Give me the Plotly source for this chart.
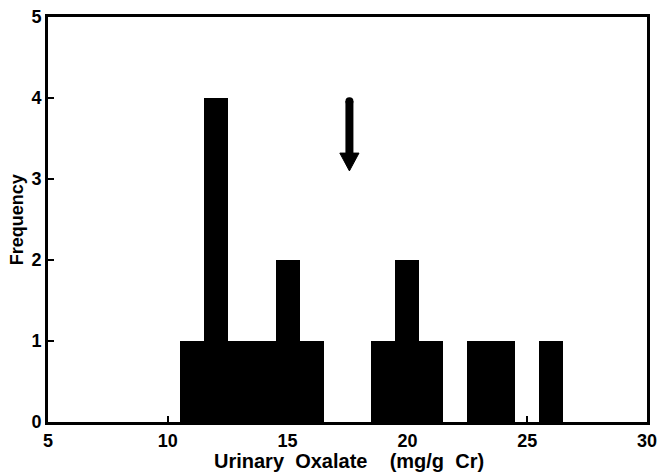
import plotly.graph_objects as go

# Histogram data: bin centres (mg/g Cr) and frequencies
bin_centers = [11, 12, 13, 14, 15, 16, 19, 20, 21, 23, 24, 26]
frequency = [1, 4, 1, 1, 2, 1, 1, 2, 1, 1, 1, 1]
bin_width = 1

x_ticks = [5, 10, 15, 20, 25, 30]
y_ticks = [0, 1, 2, 3, 4, 5]

# arrow marking the value of interest
arrow_x = 17.58
arrow_top = 3.96
arrow_head_base = 3.32
arrow_tip = 3.10
arrow_half_w = 0.4

font = "Liberation Sans, Arial, sans-serif"

fig = go.Figure()
fig.add_trace(go.Bar(
    x=bin_centers, y=frequency, width=[bin_width] * len(bin_centers),
    marker=dict(color="black", line=dict(width=0)),
    showlegend=False,
))

# arrow shaft (rounded top) and head
fig.add_shape(type="line", x0=arrow_x, x1=arrow_x, y0=arrow_top, y1=arrow_head_base,
              xref="x", yref="y", line=dict(color="black", width=8))
fig.add_shape(type="circle", xref="x", yref="y", xsizemode="pixel", ysizemode="pixel",
              xanchor=arrow_x, yanchor=arrow_top, x0=-4, x1=4, y0=-4, y1=4,
              fillcolor="black", line=dict(width=0))
fig.add_shape(type="path",
              path=f"M {arrow_x - arrow_half_w} {arrow_head_base} L {arrow_x + arrow_half_w} {arrow_head_base} L {arrow_x} {arrow_tip} Z",
              xref="x", yref="y", fillcolor="black", line=dict(color="black", width=1))

# axis titles as annotations for exact placement
fig.add_annotation(text="<b>Urinary&nbsp;&nbsp;Oxalate&nbsp;&nbsp;&nbsp;&nbsp;(mg/g&nbsp;&nbsp;Cr)</b>",
                   xref="paper", yref="paper", x=0.502, y=-0.097, xanchor="center", yanchor="middle",
                   showarrow=False, font=dict(family=font, size=20, color="black"))
fig.add_annotation(text="<b>Frequency</b>", textangle=-90,
                   xref="paper", yref="paper", x=-0.052, y=0.5, xanchor="center", yanchor="middle",
                   showarrow=False, font=dict(family=font, size=18, color="black"))

fig.update_layout(
    width=657, height=473,
    margin=dict(l=48, r=10, t=17, b=51),
    plot_bgcolor="white", paper_bgcolor="white",
    bargap=0,
    font=dict(family=font, size=16, color="black"),
)
fig.update_xaxes(
    range=[5, 30], tickvals=x_ticks, ticktext=[str(v) for v in x_ticks],
    showgrid=False, zeroline=False, automargin=False, ticklabeloverflow="allow",
    showline=True, linecolor="black", linewidth=3, mirror=True,
    ticks="inside", ticklen=6, tickwidth=2, tickcolor="black",
    tickfont=dict(family=font, size=18, color="black", weight="bold"),
)
fig.update_yaxes(
    range=[0, 5], tickvals=y_ticks, ticktext=[str(v) for v in y_ticks],
    showgrid=False, zeroline=False, automargin=False, ticklabeloverflow="allow",
    showline=True, linecolor="black", linewidth=3, mirror=True,
    ticks="inside", ticklen=6, tickwidth=2, tickcolor="black",
    tickfont=dict(family=font, size=18, color="black", weight="bold"),
)

fig.write_html("out.html", config={"displayModeBar": False},
               post_script="document.body.style.margin='0';document.body.style.overflow='hidden';")
